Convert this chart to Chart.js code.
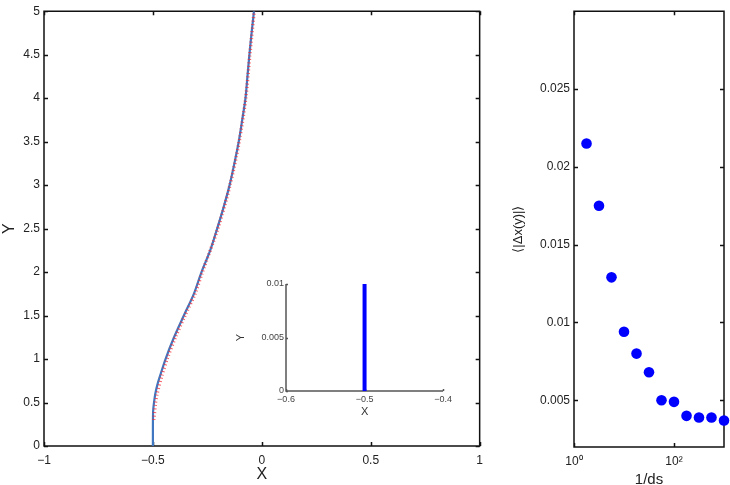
<!DOCTYPE html>
<html>
<head>
<meta charset="utf-8">
<script src="https://cdn.jsdelivr.net/npm/chart.js@4.4.1/dist/chart.umd.min.js"></script>
<style>
  html, body { margin: 0; padding: 0; background: #fff; }
  #wrap { position: relative; width: 730px; height: 485px; overflow: hidden; }
  canvas { position: absolute; }
</style>
</head>
<body>
<div id="wrap">
  <canvas id="main" width="490" height="485" style="left:0;top:0"></canvas>
  <canvas id="inset" width="225" height="150" style="left:230px;top:270px"></canvas>
  <canvas id="err" width="230" height="485" style="left:500px;top:0"></canvas>
</div>
<script>
// main panel: curve x(y)
const curveY = [0, 0.2, 0.4, 0.5, 0.6, 0.7, 0.8, 1.0, 1.25, 1.5, 1.75, 2.0, 2.25, 2.5, 2.75, 3.0, 3.25, 3.5, 3.75, 4.0, 4.25, 4.5, 4.75, 5.0]
const curveX = [-0.5, -0.5, -0.499, -0.495, -0.489, -0.48, -0.468, -0.442, -0.403, -0.358, -0.312, -0.277, -0.237, -0.205, -0.175, -0.148, -0.126, -0.106, -0.09, -0.075, -0.066, -0.057, -0.047, -0.036]
const refY = [0.3, 0.5, 0.6, 0.8, 1.0, 1.25, 1.5, 1.75, 2.0, 2.5, 3.0, 3.5, 4.0, 4.5, 5.0]
const refX = [-0.496, -0.488, -0.481, -0.46, -0.435, -0.397, -0.353, -0.307, -0.273, -0.202, -0.146, -0.104, -0.074, -0.055, -0.035]
const mainXTicks = [-1, -0.5, 0, 0.5, 1]
const mainYTicks = [0, 0.5, 1, 1.5, 2, 2.5, 3, 3.5, 4, 4.5, 5]

// inset
const insetX = [-0.5, -0.5]
const insetY = [0, 0.01]
const insetXTicks = [-0.6, -0.5, -0.4]
const insetYTicks = [0, 0.005, 0.01]

// right panel
const invDs = [1.78, 3.16, 5.62, 10, 17.8, 31.6, 56.2, 100, 178, 316, 562, 1000]
const meanErr = [0.0215, 0.0175, 0.0129, 0.0094, 0.0080, 0.0068, 0.0050, 0.0049, 0.0040, 0.0039, 0.0039, 0.0037]
const errXTicks = [1, 100]
const errXLabels = ['10\u2070', '10\u00b2']
const errYTicks = [0.005, 0.01, 0.015, 0.02, 0.025]

const FONT = "'Liberation Sans', Arial, sans-serif"
const minus = v => String(+v.toFixed(4)).replace('-', '\u2212')
const pts = (xs, ys) => xs.map((x, i) => ({ x: x, y: ys[i] }))
const setTicks = list => s => { s.ticks = list.map(v => ({ value: v })) }

// box and inward tick marks
const frame = {
  id: 'frame',
  beforeDatasetsDraw(chart, args, o) {
    const { ctx, chartArea: a, scales: { x, y } } = chart
    const L = o.len
    ctx.save()
    ctx.strokeStyle = o.color
    ctx.lineWidth = o.width
    ctx.beginPath()
    if (o.box) {
      ctx.rect(a.left, a.top, a.right - a.left, a.bottom - a.top)
    } else {
      ctx.moveTo(a.left, a.top)
      ctx.lineTo(a.left, a.bottom)
      ctx.lineTo(a.right, a.bottom)
    }
    x.ticks.forEach(t => {
      const p = Math.round(x.getPixelForValue(t.value)) + 0.5
      ctx.moveTo(p, a.bottom); ctx.lineTo(p, a.bottom - L)
      if (o.box) { ctx.moveTo(p, a.top); ctx.lineTo(p, a.top + L) }
    })
    y.ticks.forEach(t => {
      const p = Math.round(y.getPixelForValue(t.value)) + 0.5
      ctx.moveTo(a.left, p); ctx.lineTo(a.left + L, p)
      if (o.box) { ctx.moveTo(a.right, p); ctx.lineTo(a.right - L, p) }
    })
    ctx.stroke()
    ctx.restore()
  }
}

Chart.defaults.font.family = FONT
Chart.defaults.color = '#222'
Chart.defaults.animation = false

new Chart(document.getElementById('main'), {
  type: 'scatter',
  data: {
    datasets: [{
      data: pts(curveX, curveY),
      showLine: true,
      borderColor: '#3f78c0',
      borderWidth: 2.2,
      pointRadius: 0,
      tension: 0.3,
      order: 2
    }, {
      data: pts(refX, refY),
      showLine: true,
      borderColor: 'rgba(245,40,50,0.75)',
      borderWidth: 3.5,
      borderDash: [1, 2.5],
      pointRadius: 0,
      tension: 0.3,
      order: 1
    }]
  },
  options: {
    responsive: false,
    layout: { padding: { top: 8, right: 6, left: 0, bottom: 0 } },
    plugins: {
      legend: { display: false },
      tooltip: { enabled: false },
      frame: { box: true, color: '#111', width: 1.5, len: 4 }
    },
    scales: {
      x: {
        type: 'linear', min: -1, max: 1,
        afterBuildTicks: setTicks(mainXTicks),
        afterFit: s => { s.height = 39 },
        grid: { display: false, drawTicks: false },
        border: { display: false },
        ticks: { font: { size: 12 }, padding: 7, maxRotation: 0, callback: minus },
        title: { display: true, text: 'X', font: { size: 16 }, padding: { top: 0, bottom: 1 } }
      },
      y: {
        type: 'linear', min: 0, max: 5,
        afterBuildTicks: setTicks(mainYTicks),
        afterFit: s => { s.width = 44 },
        grid: { display: false, drawTicks: false },
        border: { display: false },
        ticks: { font: { size: 12 }, padding: 4, callback: minus },
        title: { display: true, text: 'Y', font: { size: 16 }, padding: { top: 0, bottom: 0 } }
      }
    }
  },
  plugins: [frame]
})

new Chart(document.getElementById('inset'), {
  type: 'scatter',
  data: {
    datasets: [{
      data: pts(insetX, insetY),
      showLine: true,
      borderColor: '#0000ff',
      borderWidth: 4,
      borderCapStyle: 'butt',
      pointRadius: 0
    }]
  },
  options: {
    responsive: false,
    layout: { padding: { top: 14, right: 9, left: 0, bottom: 0 } },
    plugins: {
      legend: { display: false },
      tooltip: { enabled: false },
      frame: { box: false, color: '#555', width: 1.5, len: 2 }
    },
    scales: {
      x: {
        type: 'linear', min: -0.6, max: -0.4,
        afterBuildTicks: setTicks(insetXTicks),
        afterFit: s => { s.height = 29 },
        grid: { display: false, drawTicks: false },
        border: { display: false },
        ticks: { font: { size: 9 }, color: '#444', padding: 3, maxRotation: 0, callback: minus },
        title: { display: true, text: 'X', color: '#333', font: { size: 11 }, padding: { top: 0, bottom: 1 } }
      },
      y: {
        type: 'linear', min: 0, max: 0.01,
        afterBuildTicks: setTicks(insetYTicks),
        afterFit: s => { s.width = 56 },
        grid: { display: false, drawTicks: false },
        border: { display: false },
        ticks: { font: { size: 9 }, color: '#444', padding: 2, callback: minus },
        title: { display: true, text: 'Y', color: '#333', font: { size: 11 }, padding: { top: 4, bottom: 0 } }
      }
    }
  },
  plugins: [frame]
})

new Chart(document.getElementById('err'), {
  type: 'scatter',
  data: {
    datasets: [{
      data: pts(invDs, meanErr),
      backgroundColor: '#0000ff',
      borderWidth: 0,
      pointRadius: 5.3,
      clip: false
    }]
  },
  options: {
    responsive: false,
    layout: { padding: { top: 6, right: 6, left: 0, bottom: 0 } },
    plugins: {
      legend: { display: false },
      tooltip: { enabled: false },
      frame: { box: true, color: '#111', width: 1.5, len: 4 }
    },
    scales: {
      x: {
        type: 'logarithmic', min: 1, max: 1000,
        afterBuildTicks: setTicks(errXTicks),
        afterFit: s => { s.height = 38 },
        grid: { display: false, drawTicks: false },
        border: { display: false },
        ticks: { font: { size: 12 }, padding: 7, maxRotation: 0, autoSkip: false,
          callback: v => errXLabels[errXTicks.indexOf(v)] },
        title: { display: true, text: '1/ds', font: { size: 15 }, padding: { top: 0, bottom: -4 } }
      },
      y: {
        type: 'linear', min: 0.002, max: 0.030,
        afterBuildTicks: setTicks(errYTicks),
        afterFit: s => { s.width = 74 },
        grid: { display: false, drawTicks: false },
        border: { display: false },
        ticks: { font: { size: 12 }, padding: 4, callback: minus },
        title: { display: true, text: '\u27e8|\u0394x(y)|\u27e9', font: { size: 13 }, padding: { top: 11, bottom: 0 } }
      }
    }
  },
  plugins: [frame]
})
</script>
</body>
</html>
